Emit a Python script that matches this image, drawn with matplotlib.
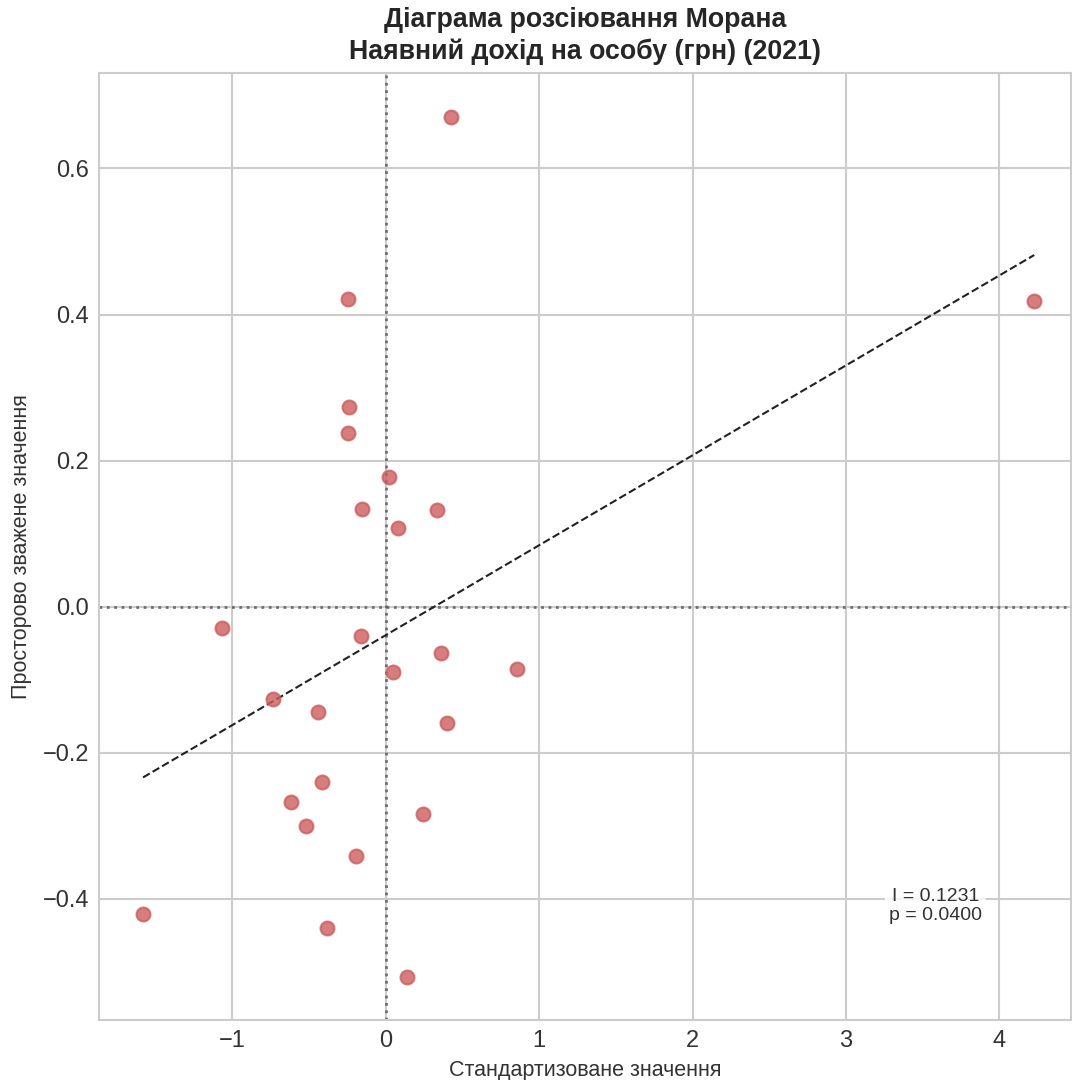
import numpy as np
import matplotlib
matplotlib.use("Agg")
import matplotlib.pyplot as plt

# Standardised values (z) and their spatial lag (Wz)
z_values = [0.423, 4.228, -0.248, -0.241, -0.248, 0.020, -0.156, 0.332, 0.078,
            -1.068, -0.163, 0.358, 0.853, 0.046, -0.736, -0.443, 0.397,
            -0.417, -0.619, 0.241, -0.521, -0.195, -1.583, -0.384, 0.137]
lag_values = [0.671, 0.418, 0.421, 0.273, 0.238, 0.177, 0.134, 0.132, 0.107,
              -0.029, -0.040, -0.063, -0.086, -0.089, -0.127, -0.144, -0.160,
              -0.240, -0.267, -0.284, -0.300, -0.341, -0.421, -0.440, -0.507]
morans_i = 0.1231
p_value = 0.0400
fit_intercept = -0.039

TITLE = "Діаграма розсіювання Морана\nНаявний дохід на особу (грн) (2021)"
XLABEL = "Стандартизоване значення"
YLABEL = "Просторово зважене значення"

plt.style.use("seaborn-v0_8-whitegrid")
plt.rcParams.update({
    "font.family": ["Liberation Sans", "DejaVu Sans"],
    "axes.edgecolor": "#cccccc",
    "axes.linewidth": 1.5,
    "grid.color": "#cccccc",
    "grid.linewidth": 1.5,
})

fig = plt.figure(figsize=(10.72, 10.8), dpi=100)
ax = fig.add_axes([0.0924, 0.0556, 0.907, 0.877])

z = np.array(z_values)
lag = np.array(lag_values)

ax.scatter(z, lag, s=100, color="indianred", alpha=0.8, linewidths=1.5,
           zorder=3)

xs = np.array([z.min(), z.max()])
ax.plot(xs, morans_i * xs + fit_intercept, color="#222222", linestyle="--",
        linewidth=1.5, zorder=2)

ax.axhline(0, color="#555555", linestyle=":", linewidth=2, alpha=0.8, zorder=1)
ax.axvline(0, color="#555555", linestyle=":", linewidth=2, alpha=0.8, zorder=1)

ax.text(0.86, 0.12, f"I = {morans_i:.4f}\np = {p_value:.4f}",
        transform=ax.transAxes, ha="center", va="center", fontsize=14,
        color="#333333", linespacing=1.15,
        bbox=dict(boxstyle="round,pad=0.2", facecolor="white",
                  edgecolor="none", alpha=0.8))

ax.set_xlim(-1.87, 4.47)
ax.set_ylim(-0.566, 0.731)
ax.set_xticks([-1, 0, 1, 2, 3, 4])
ax.set_yticks([-0.4, -0.2, 0.0, 0.2, 0.4, 0.6])
ax.tick_params(labelsize=17, colors="#333333", pad=7)

ax.set_title(TITLE, fontsize=19.3, fontweight="bold", color="#262626", pad=10,
             linespacing=1.27)
ax.set_xlabel(XLABEL, fontsize=15.5, color="#333333", labelpad=6)
ax.set_ylabel(YLABEL, fontsize=15.5, color="#333333", labelpad=8)

fig.savefig("out.png", dpi=100)
